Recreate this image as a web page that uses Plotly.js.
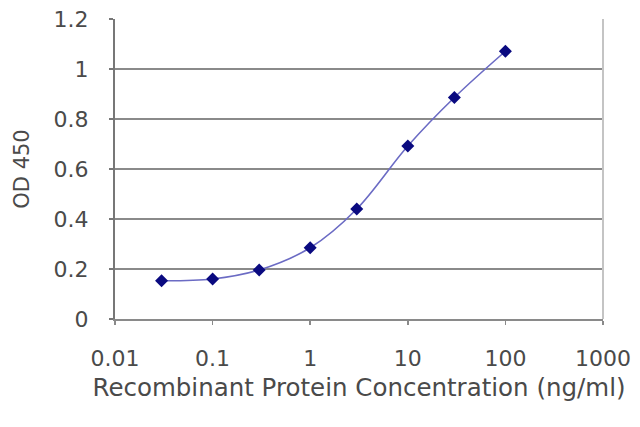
<!DOCTYPE html>
<html>
<head>
<meta charset="utf-8">
<script src="https://cdn.plot.ly/plotly-3.0.1.min.js"></script>
<style>html,body{margin:0;padding:0;background:#fff;}#chart{width:640px;height:427px;}</style>
</head>
<body>
<div id="chart"></div>
<script>
var concentrations = [0.03, 0.1, 0.3, 1, 3, 10, 30, 100];
var odValues = [0.153, 0.16, 0.196, 0.285, 0.44, 0.692, 0.886, 1.071];
var xTickVals = [0.01, 0.1, 1, 10, 100, 1000];
var xTickText = ["0.01", "0.1", "1", "10", "100", "1000"];
var yTickVals = [0, 0.2, 0.4, 0.6, 0.8, 1, 1.2];
var yTickText = ["0", "0.2", "0.4", "0.6", "0.8", "1", "1.2"];

var trace = {
  x: concentrations,
  y: odValues,
  type: 'scatter',
  mode: 'lines+markers',
  line: {color: '#6b6bc4', width: 1.6, shape: 'spline', smoothing: 1},
  marker: {symbol: 'diamond', size: 10, color: '#0a0a80'},
  hoverinfo: 'none'
};

var fontFam = 'DejaVu Sans, Arial, sans-serif';
var layout = {
  width: 640, height: 427,
  margin: {l: 115, r: 37, t: 19, b: 108},
  paper_bgcolor: '#ffffff', plot_bgcolor: '#ffffff',
  showlegend: false,
  font: {family: fontFam, color: '#4a4a4a'},
  xaxis: {
    type: 'log', range: [-2, 3],
    tickvals: xTickVals, ticktext: xTickText,
    tickfont: {size: 22, color: '#4a4a4a'},
    showgrid: false, zeroline: false,
    showline: true, linecolor: '#8a8a8a', linewidth: 2,
    ticks: 'outside', ticklen: 4, tickcolor: '#8a8a8a', tickwidth: 1.5,
    ticklabelstandoff: 15,
    title: {text: 'Recombinant Protein Concentration (ng/ml)', font: {size: 24.5, color: '#4a4a4a'}, standoff: 8}
  },
  yaxis: {
    range: [0, 1.2],
    tickvals: yTickVals, ticktext: yTickText,
    tickfont: {size: 22, color: '#4a4a4a'},
    showgrid: true, gridcolor: '#8a8a8a', gridwidth: 2,
    zeroline: false,
    showline: true, linecolor: '#777777', linewidth: 2,
    ticks: 'outside', ticklen: 4, tickcolor: '#777777', tickwidth: 1.5,
    ticklabelstandoff: 16,
    title: {text: 'OD 450', font: {size: 21, color: '#4a4a4a'}, standoff: 18}
  },
  shapes: [
    {type: 'line', xref: 'paper', yref: 'paper', x0: 1, x1: 1, y0: 0, y1: 1,
     line: {color: '#c4c4c4', width: 2}}
  ]
};

Plotly.newPlot('chart', [trace], layout, {staticPlot: true, displayModeBar: false});
</script>
</body>
</html>
